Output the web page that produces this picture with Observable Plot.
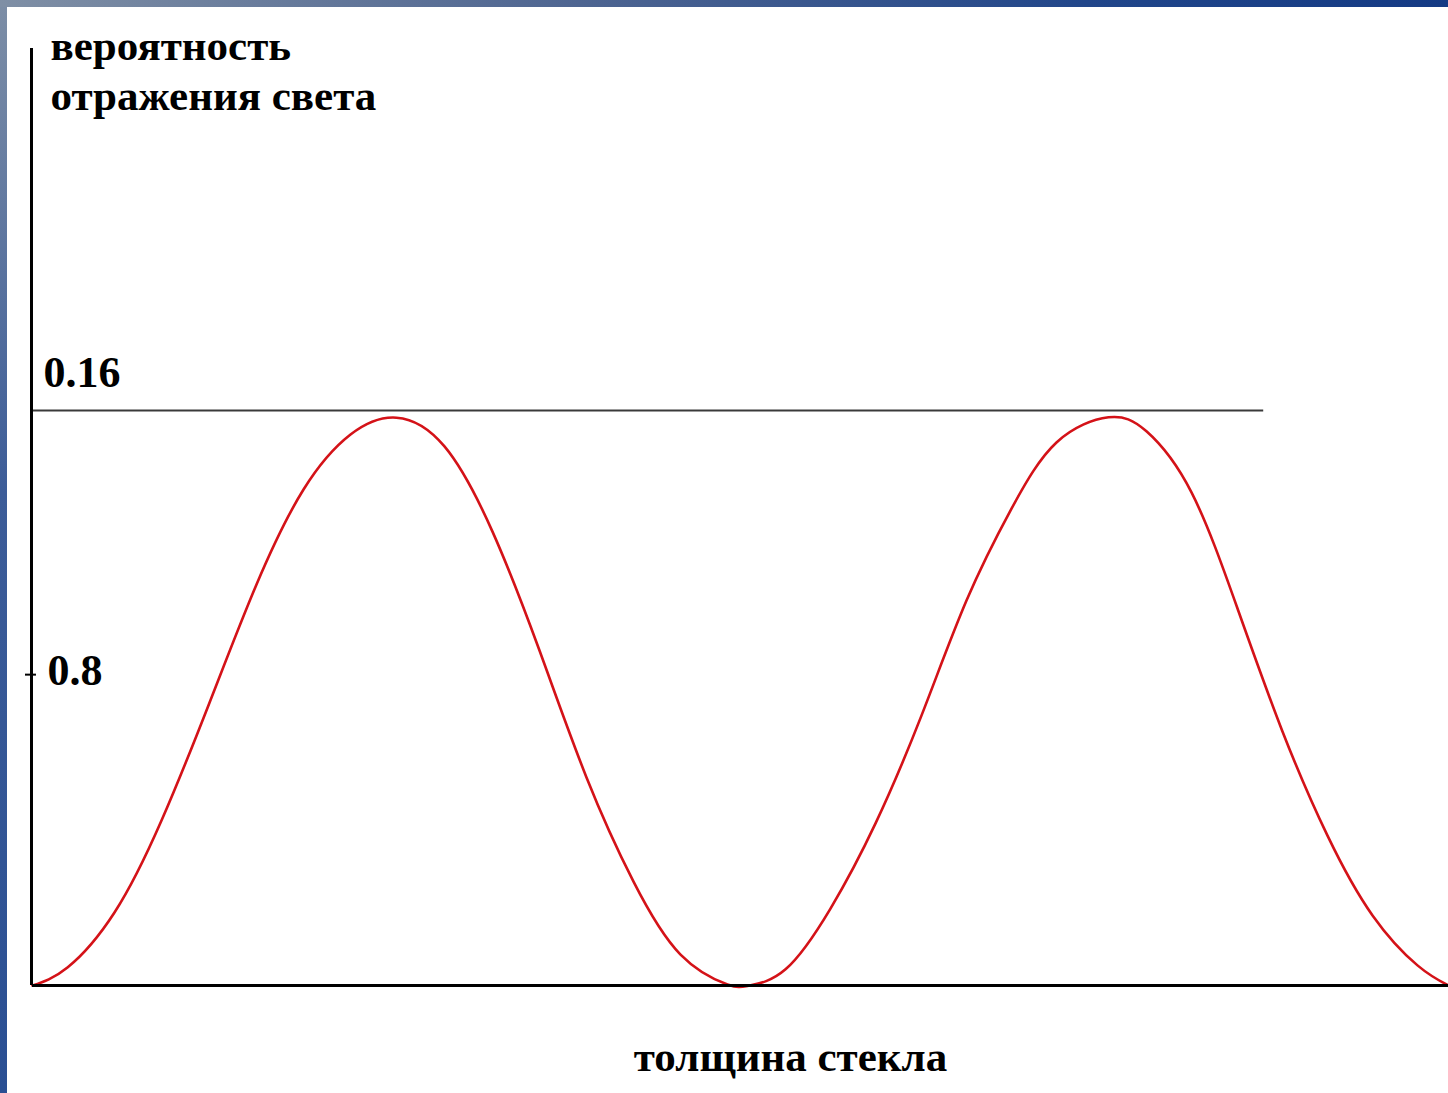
<!DOCTYPE html>
<html>
<head>
<meta charset="utf-8">
<script src="https://cdn.jsdelivr.net/npm/d3@7"></script>
<script src="https://cdn.jsdelivr.net/npm/@observablehq/plot@0.6"></script>
<style>
  html, body { margin: 0; padding: 0; width: 1448px; height: 1093px; overflow: hidden; }
  body {
    position: relative;
    background: linear-gradient(180deg, #7d8ea6 0%, #3c5c98 45%, #2a4f93 100%);
  }
  #topbar {
    position: absolute; left: 0; top: 0; width: 1448px; height: 7px;
    background: linear-gradient(90deg, #7f8fa5 0%, #4e6591 40%, #21468a 75%, #143a84 100%);
  }
  #paper { position: absolute; left: 7px; top: 7px; right: 0; bottom: 0; background: #fff; }
  #chart { position: absolute; left: 0; top: 0; }
  #chart svg { background: transparent; }
</style>
</head>
<body>
<div id="topbar"></div>
<div id="paper"></div>
<div id="chart"></div>
<script>
// Glass thickness (arbitrary units) and reflection probability
const thickness = [
  0, 0.0494, 0.1158, 0.1822, 0.2500, 0.3164, 0.3828, 0.4492, 0.5141, 0.5819,
  0.6497, 0.7161, 0.7825, 0.8489, 0.9153, 0.9816, 1.0127,
  1.0636, 1.1271, 1.1907, 1.2556, 1.3192, 1.3828, 1.4463, 1.5198, 1.5734,
  1.6370, 1.7020, 1.7655, 1.8291, 1.8927, 1.9562, 2.0
];
const reflection = [
  0, 0.0050, 0.0203, 0.0459, 0.0787, 0.1116, 0.1380, 0.1533, 0.1580, 0.1500,
  0.1263, 0.0932, 0.0579, 0.0289, 0.0086, 0.0003, 0,
  0.0045, 0.0214, 0.0451, 0.0751, 0.1071, 0.1327, 0.1511, 0.1581, 0.1542,
  0.1372, 0.1049, 0.0707, 0.0417, 0.0195, 0.0056, 0
];

const maxLevel = [0.16];              // horizontal reference level
const maxLevelExtent = [0, 1.739];    // thickness span of that reference line
const tickValues = [0.0865];          // position of the "0.8" tick as drawn
const tickExtent = [-0.0099, 0.0056]; // the tick crosses the axis
const tickLabels = ["0.8"];
const maxLabel = ["0.16"];
const yAxisTop = 0.2607;              // top of the vertical axis line
const xExtent = [0, 2];
const yTitle = "вероятность\nотражения света";
const xTitle = "толщина стекла";

const curve = thickness.map((t, i) => ({t, r: reflection[i]}));
const font = "'Liberation Serif', 'Times New Roman', serif";

const plot = Plot.plot({
  width: 1448,
  height: 1093,
  marginLeft: 32,
  marginRight: 0,
  marginTop: 0,
  marginBottom: 108,
  style: {background: "transparent", fontFamily: font},
  x: {domain: xExtent, range: [32, 1448], axis: null},
  y: {domain: [0, 0.16], range: [985, 410], axis: null},
  marks: [
    // reference line at 0.16
    Plot.ruleY(maxLevel, {x1: maxLevelExtent[0], x2: maxLevelExtent[1], stroke: "#3a3a3a", strokeWidth: 2}),
    // red curve
    Plot.line(curve, {x: "t", y: "r", stroke: "#d41218", strokeWidth: 2.6, curve: "natural"}),
    // axes lines
    Plot.ruleX([0], {y1: 0, y2: yAxisTop, stroke: "#000", strokeWidth: 3, dx: -1}),
    Plot.ruleY([0], {x1: xExtent[0], x2: xExtent[1], stroke: "#000", strokeWidth: 3}),
    // y tick and labels
    Plot.ruleY(tickValues, {x1: tickExtent[0], x2: tickExtent[1], stroke: "#000", strokeWidth: 2}),
    Plot.text(tickValues, {x: 0, y: d => d, text: (d, i) => tickLabels[i], textAnchor: "start", dx: 15, dy: -4,
      fontSize: 44, fontWeight: "bold", fill: "#000"}),
    Plot.text(maxLevel, {x: 0, y: d => d, text: (d, i) => maxLabel[i], textAnchor: "start", dx: 11, dy: -38,
      fontSize: 44, fontWeight: "bold", fill: "#000"}),
    // titles
    Plot.text([yTitle], {frameAnchor: "top-left", text: d => d, textAnchor: "start", lineAnchor: "top",
      dx: 18, dy: 24, fontSize: 43, fontWeight: "bold", lineHeight: 1.16, fill: "#000"}),
    Plot.text([xTitle], {frameAnchor: "bottom", text: d => d, dx: 50, dy: 85,
      fontSize: 43, fontWeight: "bold", fill: "#000"})
  ]
});
document.getElementById("chart").appendChild(plot);
</script>
</body>
</html>
